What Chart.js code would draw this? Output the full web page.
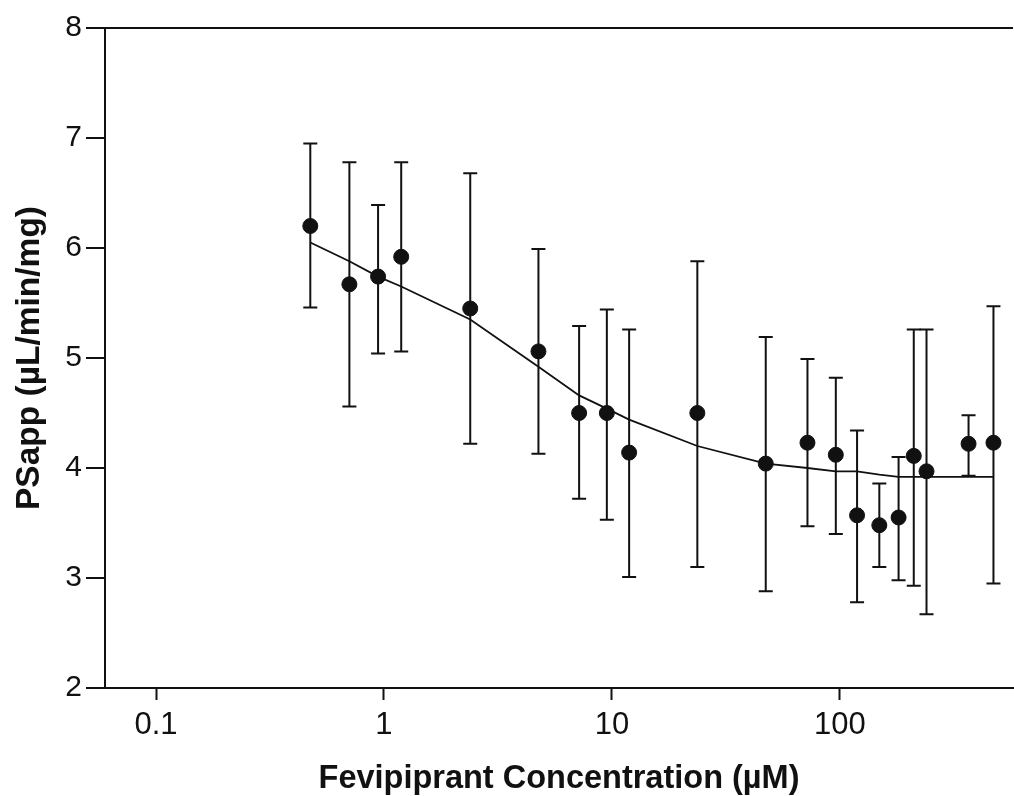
<!DOCTYPE html>
<html>
<head>
<meta charset="utf-8">
<script src="https://cdn.jsdelivr.net/npm/chart.js@4/dist/chart.umd.min.js"></script>
<style>
  html,body{margin:0;padding:0;background:#fff;}
  #wrap{width:1014px;height:796px;}
</style>
</head>
<body>
<div id="wrap"><canvas id="grafico" width="1014" height="796"></canvas></div>
<script>
// concentración (µM), media y extremos de las barras de error
const conc  = [0.475,0.705,0.942,1.19,2.39,4.76,7.18,9.50,11.9,23.7,47.3,72.1,96.0,119,149,181,211,240,367,472];
const psapp = [6.20,5.67,5.74,5.92,5.45,5.06,4.50,4.50,4.14,4.50,4.04,4.23,4.12,3.57,3.48,3.55,4.11,3.97,4.22,4.23];
const upper = [6.95,6.78,6.39,6.78,6.68,5.99,5.29,5.44,5.26,5.88,5.19,4.99,4.82,4.34,3.86,4.10,5.26,5.26,4.48,5.47];
const lower = [5.46,4.56,5.04,5.06,4.22,4.13,3.72,3.53,3.01,3.10,2.88,3.47,3.40,2.78,3.10,2.98,2.93,2.67,3.93,2.95];
// curva ajustada, evaluada en las mismas concentraciones
const ajuste = [6.05,5.88,5.74,5.65,5.35,4.92,4.66,4.54,4.44,4.20,4.04,4.00,3.97,3.97,3.94,3.92,3.92,3.92,3.92,3.92];
const xTicks = [0.1,1,10,100];

const FONT = "'Liberation Sans', Arial, sans-serif";
const NEGRO = "#111";

/* ---------- barras de error ---------- */
const barrasError = {
  id: "barrasError",
  beforeDatasetsDraw(chart){
    const {ctx, scales:{x,y}} = chart;
    ctx.save();
    ctx.strokeStyle = NEGRO; ctx.lineWidth = 2;
    conc.forEach((c,i)=>{
      const px = x.getPixelForValue(c);
      const yt = y.getPixelForValue(upper[i]), yb = y.getPixelForValue(lower[i]);
      ctx.beginPath();
      ctx.moveTo(px,yt); ctx.lineTo(px,yb);
      ctx.moveTo(px-7,yt); ctx.lineTo(px+7,yt);
      ctx.moveTo(px-7,yb); ctx.lineTo(px+7,yb);
      ctx.stroke();
    });
    ctx.restore();
  }
};

new Chart(document.getElementById("grafico"),{
  type:"scatter",
  data:{datasets:[
    {data:conc.map((c,i)=>({x:c,y:psapp[i]})), backgroundColor:NEGRO, borderColor:NEGRO,
     pointRadius:7.5, pointHoverRadius:7.5, order:0},
    {type:"line", data:conc.map((c,i)=>({x:c,y:ajuste[i]})), borderColor:NEGRO, borderWidth:1.8,
     pointRadius:0, fill:false, tension:0, order:1}
  ]},
  options:{
    responsive:false, animation:false,
    layout:{autoPadding:false, padding:{top:28,right:1,left:0,bottom:0}},
    plugins:{legend:{display:false}, tooltip:{enabled:false}},
    scales:{
      x:{
        type:"logarithmic", min:0.0597, max:575,
        afterBuildTicks: s => { s.ticks = xTicks.map(v=>({value:v})); },
        afterFit: s => { s.height = 108; s.paddingLeft = 0; s.paddingRight = 0; },
        ticks:{autoSkip:false, maxRotation:0, padding:7, color:NEGRO,
               font:{family:FONT,size:31}, callback:v=>String(v)},
        grid:{drawOnChartArea:false, tickLength:12, tickColor:NEGRO, tickWidth:2},
        border:{color:NEGRO,width:2},
        title:{display:true, text:"Fevipiprant Concentration (µM)", color:NEGRO,
               font:{family:FONT,size:32.5,weight:"bold",lineHeight:1}, padding:{top:0,bottom:1}}
      },
      y:{
        min:2, max:8,
        afterFit: s => { s.width = 105; },
        ticks:{stepSize:1, padding:4, color:NEGRO, font:{family:FONT,size:30}},
        grid:{color:c=>c.tick && c.tick.value===8 ? NEGRO : "rgba(0,0,0,0)",
              lineWidth:2, tickLength:19, tickColor:NEGRO, tickWidth:2},
        border:{color:NEGRO,width:2},
        title:{display:true, text:"PSapp (µL/min/mg)", color:NEGRO,
               font:{family:FONT,size:33.5,weight:"bold",lineHeight:1.2}, padding:{top:10,bottom:0}}
      }
    }
  },
  plugins:[barrasError]
});
</script>
</body>
</html>
